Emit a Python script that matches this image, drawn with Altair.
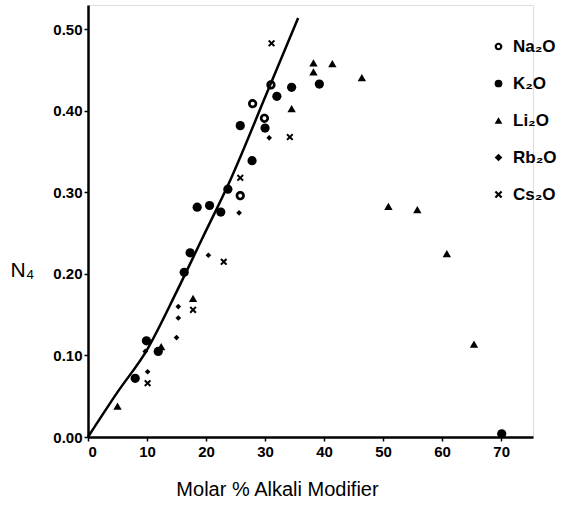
import altair as alt
import pandas as pd

# ---- data ----
na_x = [27.9, 31.0, 29.9, 25.8]
na_y = [0.409, 0.432, 0.391, 0.296]

k_x = [25.8, 27.8, 23.7, 18.5, 20.6, 22.5, 34.5, 32.0, 39.2, 30.0, 16.3, 17.3, 8.0, 9.9, 11.9, 70.1]
k_y = [0.382, 0.339, 0.304, 0.282, 0.284, 0.276, 0.429, 0.418, 0.433, 0.379, 0.202, 0.226, 0.072, 0.118, 0.105, 0.004]

li_x = [38.2, 38.2, 41.4, 46.4, 34.5, 50.9, 55.8, 60.8, 65.4, 5.0, 12.4, 17.8]
li_y = [0.459, 0.448, 0.458, 0.441, 0.403, 0.283, 0.279, 0.225, 0.114, 0.038, 0.111, 0.170]

rb_x = [25.6, 30.7, 9.7, 15.0, 15.3, 20.4, 10.1, 15.3]
rb_y = [0.275, 0.367, 0.105, 0.122, 0.146, 0.223, 0.080, 0.160]

cs_x = [31.1, 25.8, 34.2, 17.8, 23.0, 10.1]
cs_y = [0.483, 0.318, 0.368, 0.156, 0.215, 0.066]

curve_x = [0, 5, 10, 15, 19.25, 24.1, 30.3, 35.6]
curve_y = [0.0, 0.055, 0.107, 0.178, 0.242, 0.315, 0.422, 0.514]

series = ["Na₂O", "K₂O", "Li₂O", "Rb₂O", "Cs₂O"]
x_ticks = [0, 10, 20, 30, 40, 50, 60, 70]
y_ticks = [0.0, 0.1, 0.2, 0.3, 0.4, 0.5]

all_x = [na_x, k_x, li_x, rb_x, cs_x]
all_y = [na_y, k_y, li_y, rb_y, cs_y]

curve = pd.DataFrame({"x": curve_x, "y": curve_y})

ring = ("M1,0A1,1 0 1,1 -1,0A1,1 0 1,1 1,0Z "
        "M0.42,0A0.42,0.42 0 1,0 -0.42,0A0.42,0.42 0 1,0 0.42,0Z")
xshape = "M-1,-0.6L-0.6,-1L0,-0.4L0.6,-1L1,-0.6L0.4,0L1,0.6L0.6,1L0,0.4L-0.6,1L-1,0.6L-0.4,0Z"
shapes = [ring, "circle", "triangle-up", "diamond", xshape]
sizes = [85, 85, 70, 32, 50]

xscale = alt.Scale(domain=[0, 75.4], nice=False, zero=False)
yscale = alt.Scale(domain=[0, 0.53], nice=False, zero=False)

FONT = "Liberation Sans"

xaxis = alt.Axis(values=x_ticks, format="d", title="Molar % Alkali Modifier",
                 titleFontSize=20, titleFont=FONT, titleFontWeight="normal",
                 titleY=42, titleX=189, titleAnchor="middle",
                 labelFontSize=15, labelFont=FONT, labelFontWeight="bold",
                 labelColor="black", titleColor="black",
                 domainColor="black", domainWidth=2.5, tickColor="black",
                 tickWidth=1.5, tickSize=4, labelPadding=3, grid=False)
yaxis = alt.Axis(values=y_ticks, format=".2f", title="N₄",
                 titleAngle=0, titleFontSize=21, titleFont=FONT,
                 titleFontWeight="normal", titleX=-78, titleY=265,
                 titleAlign="left", titleBaseline="middle",
                 labelFontSize=15, labelFont=FONT, labelFontWeight="bold",
                 labelColor="black", titleColor="black",
                 domainColor="black", domainWidth=2.5, tickColor="black",
                 tickWidth=1.5, tickSize=4, labelPadding=2, grid=False)

line = alt.Chart(curve).mark_line(color="black", strokeWidth=2.5,
                                  interpolate="monotone").encode(
    x=alt.X("x:Q", scale=xscale, axis=xaxis),
    y=alt.Y("y:Q", scale=yscale, axis=yaxis),
)

shape_scale = alt.Scale(domain=series, range=shapes)
legend = alt.Legend(title=None, orient="none", legendX=402, legendY=33,
                    labelFontSize=17, labelFont=FONT, labelFontWeight="bold",
                    labelColor="black", rowPadding=19,
                    symbolFillColor="black", symbolStrokeColor="black",
                    symbolSize=60, labelOffset=6)

layers = [line]
for name, xs, ys, sz in zip(series, all_x, all_y, sizes):
    df = pd.DataFrame({"x": xs, "y": ys, "s": [name] * len(xs)})
    layers.append(
        alt.Chart(df).mark_point(filled=True, opacity=1, color="black", size=sz).encode(
            x=alt.X("x:Q", scale=xscale),
            y=alt.Y("y:Q", scale=yscale),
            shape=alt.Shape("s:N", scale=shape_scale, legend=legend),
        )
    )

chart = alt.layer(*layers).properties(
    width=445, height=432,
    autosize=alt.AutoSizeParams(type="none"),
    padding={"left": 88, "top": 5, "right": 38, "bottom": 71},
).configure_view(stroke=None).configure(background="white")

chart.save("out.html", embed_options={"renderer": "svg", "actions": False})
